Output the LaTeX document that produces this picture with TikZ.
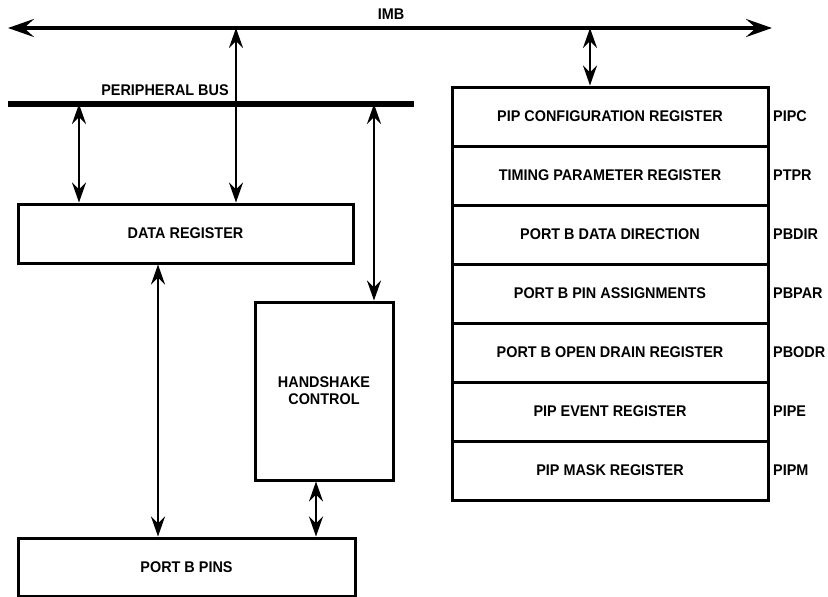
\documentclass[tikz,border=0pt]{standalone}
\usepackage{fontspec}
\setmainfont{Liberation Sans}[FakeStretch=0.93]
\usetikzlibrary{arrows.meta}
\begin{document}
\begin{tikzpicture}[x=1pt,y=-1pt,
  font=\bfseries\fontsize{15.5}{17}\selectfont,
  box/.style={draw,line width=3pt,inner sep=0pt},
  dtip/.style={{Stealth[length=20pt,width=14pt,inset=7pt]}-{Stealth[length=20pt,width=14pt,inset=7pt]}},
  link/.style={dtip,line width=2.5pt},
  lbl/.style={anchor=west,inner sep=0pt}]
\useasboundingbox (0,0) rectangle (828,597);
% buses
\coordinate (imbL) at (8,28);
\coordinate (imbR) at (772,28);
\draw[line width=4.5pt,{Stealth[length=26pt,width=18pt,inset=10pt]}-{Stealth[length=26pt,width=18pt,inset=10pt]}] (imbL) -- (imbR);
\node (imb) at (391,14) {IMB};
\coordinate (pbL) at (8,104);
\coordinate (pbR) at (414,104);
\draw[line width=6pt] (pbL) -- (pbR);
\node (pbl) at (165,90) {PERIPHERAL BUS};
% left boxes
\node[box,minimum width=335pt,minimum height=59pt] (dr) at (185.5,233.5) {DATA REGISTER};
\node[box,minimum width=138pt,minimum height=178pt,align=center] (hs) at (324,391) {HANDSHAKE\\CONTROL};
\node[box,minimum width=337pt,minimum height=58pt] (pins) at (186.5,567) {PORT B PINS};
% register stack
\foreach \i/\t/\a in {0/PIP CONFIGURATION REGISTER/PIPC,1/TIMING PARAMETER REGISTER/PTPR,2/PORT B DATA DIRECTION/PBDIR,3/PORT B PIN ASSIGNMENTS/PBPAR,4/PORT B OPEN DRAIN REGISTER/PBODR,5/PIP EVENT REGISTER/PIPE,6/PIP MASK REGISTER/PIPM}{
  \node[box,minimum width=316pt,minimum height=59pt] (r\i) at (610,116.5+59*\i) {\t};
  \node[lbl] (a\i) at (773,116.5+59*\i) {\a};
}
% connectors
\coordinate (c1) at (236,28);
\draw[link] (c1) -- (dr.north -| c1);
\coordinate (c2) at (79,104);
\draw[link] (c2) -- (dr.north -| c2);
\coordinate (c3) at (374,104);
\draw[link] (c3) -- (hs.north -| c3);
\coordinate (c4) at (590,28);
\draw[link] (c4) -- (r0.north -| c4);
\coordinate (c5) at (158,263);
\draw[link] (dr.south -| c5) -- (pins.north -| c5);
\coordinate (c6) at (316,480);
\draw[link] (hs.south -| c6) -- (pins.north -| c6);
\end{tikzpicture}
\end{document}
